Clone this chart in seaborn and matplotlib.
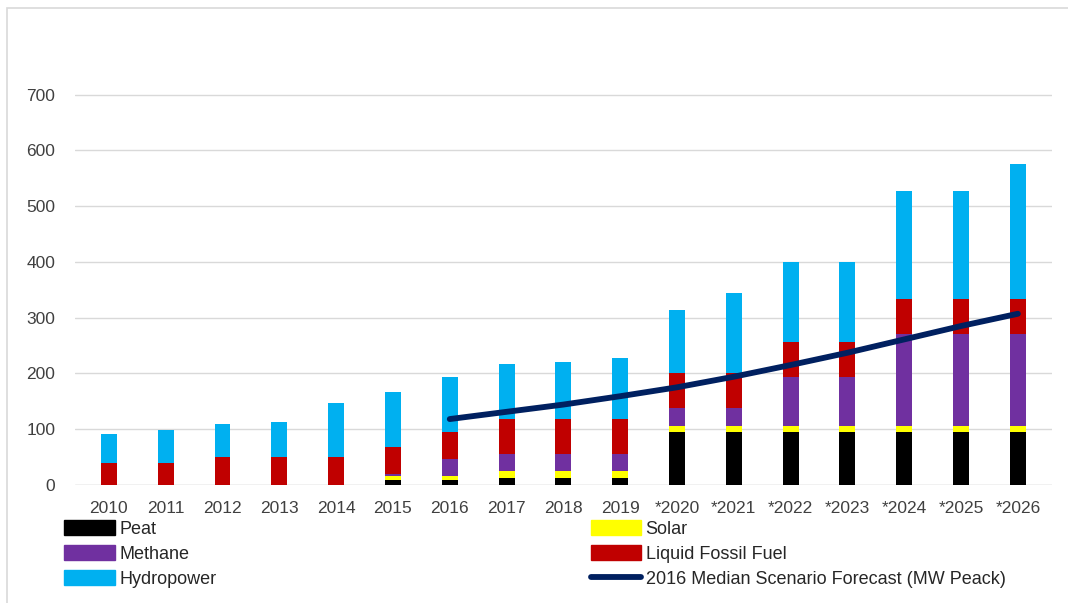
import matplotlib
matplotlib.use("Agg")
import matplotlib.pyplot as plt
import numpy as np
import pandas as pd
import seaborn as sns
from matplotlib.lines import Line2D
from matplotlib.patches import Patch, Rectangle

YEARS = ["2010", "2011", "2012", "2013", "2014", "2015", "2016", "2017", "2018",
         "2019", "*2020", "*2021", "*2022", "*2023", "*2024", "*2025", "*2026"]
PEAT = [0, 0, 0, 0, 0, 8, 8, 12, 12, 12, 95, 95, 95, 95, 95, 95, 95]
SOLAR = [0, 0, 0, 0, 0, 8, 8, 13, 13, 13, 11, 11, 11, 11, 11, 11, 11]
METHANE = [0, 0, 0, 0, 0, 3, 30, 30, 30, 30, 31, 31, 88, 88, 164, 164, 164]
LIQUID = [40, 40, 50, 50, 50, 49, 48, 63, 63, 63, 63, 63, 63, 63, 63, 63, 63]
HYDRO = [52, 58, 59, 62, 97, 98, 100, 99, 103, 110, 113, 145, 143, 143, 194, 194, 242]

FORECAST_YEARS = YEARS[6:]
FORECAST = [118, 131, 144, 159, 175, 194, 215, 237, 261, 285, 307]

SERIES = [
    ("Peat", PEAT, "#000000"),
    ("Solar", SOLAR, "#FFFF00"),
    ("Methane", METHANE, "#7030A0"),
    ("Liquid Fossil Fuel", LIQUID, "#C00000"),
    ("Hydropower", HYDRO, "#00B0F0"),
]
LINE_LABEL = "2016 Median Scenario Forecast (MW Peack)"
LINE_COLOR = "#002060"


def main() -> None:
    sns.set_theme(style="white")
    plt.rcParams["font.family"] = ["Liberation Sans", "DejaVu Sans"]

    fig = plt.figure(figsize=(10.68, 6.03), dpi=100)
    ax = fig.add_axes([0.07, 0.196, 0.915, 0.73])

    df = pd.DataFrame({"year": YEARS})
    cum = np.zeros(len(YEARS))
    layers = []
    for name, vals, color in SERIES:
        cum = cum + np.array(vals)
        layers.append((name, cum.copy(), color))
    # draw cumulative totals from the top down so each layer shows as a stack
    for name, totals, color in reversed(layers):
        df["total"] = totals
        sns.barplot(data=df, x="year", y="total", order=YEARS, color=color,
                    width=0.28, saturation=1, linewidth=0, ax=ax)

    pos = [YEARS.index(y) for y in FORECAST_YEARS]
    line_df = pd.DataFrame({"pos": pos, "mw": FORECAST})
    sns.lineplot(data=line_df, x="pos", y="mw", color=LINE_COLOR, linewidth=4.2,
                 solid_capstyle="round", ax=ax, zorder=5)

    ax.set_ylim(0, 790)
    ax.set_xlim(-0.6, len(YEARS) - 0.4)
    ax.set_yticks(range(0, 800, 100))
    ax.yaxis.grid(True, color="#D9D9D9", linewidth=1)
    ax.set_axisbelow(True)
    for s in ax.spines.values():
        s.set_visible(False)
    ax.set_xlabel("")
    ax.set_ylabel("")
    ax.tick_params(axis="both", length=0, labelsize=12.5, colors="#404040")
    ax.tick_params(axis="y", pad=14)
    ax.tick_params(axis="x", pad=12)
    ax.axhline(0, color="#D9D9D9", linewidth=1, zorder=0)

    left = [
        Patch(color="#000000", label="Peat"),
        Patch(color="#7030A0", label="Methane"),
        Patch(color="#00B0F0", label="Hydropower"),
    ]
    right = [
        Patch(color="#FFFF00", label="Solar"),
        Patch(color="#C00000", label="Liquid Fossil Fuel"),
        Line2D([0], [0], color=LINE_COLOR, linewidth=4.2, solid_capstyle="round", label=LINE_LABEL),
    ]
    common = dict(loc="lower left", frameon=False, fontsize=13, handlelength=2.8,
                  handleheight=0.85, handletextpad=0.25, labelspacing=0.42,
                  borderaxespad=0, borderpad=0)
    for hs, x0 in [(left, 0.06), (right, 0.553)]:
        leg = fig.legend(handles=hs, bbox_to_anchor=(x0, 0.025), **common)
        for t in leg.get_texts():
            t.set_color("#262626")

    # outer chart frame; right and bottom edges run off the image
    fig.patches.append(Rectangle((0.0066, -0.05), 1.1, 1.037, transform=fig.transFigure,
                                 fill=False, edgecolor="#D9D9D9", linewidth=1.2))

    fig.savefig("out.png", dpi=100)


if __name__ == "__main__":
    main()
